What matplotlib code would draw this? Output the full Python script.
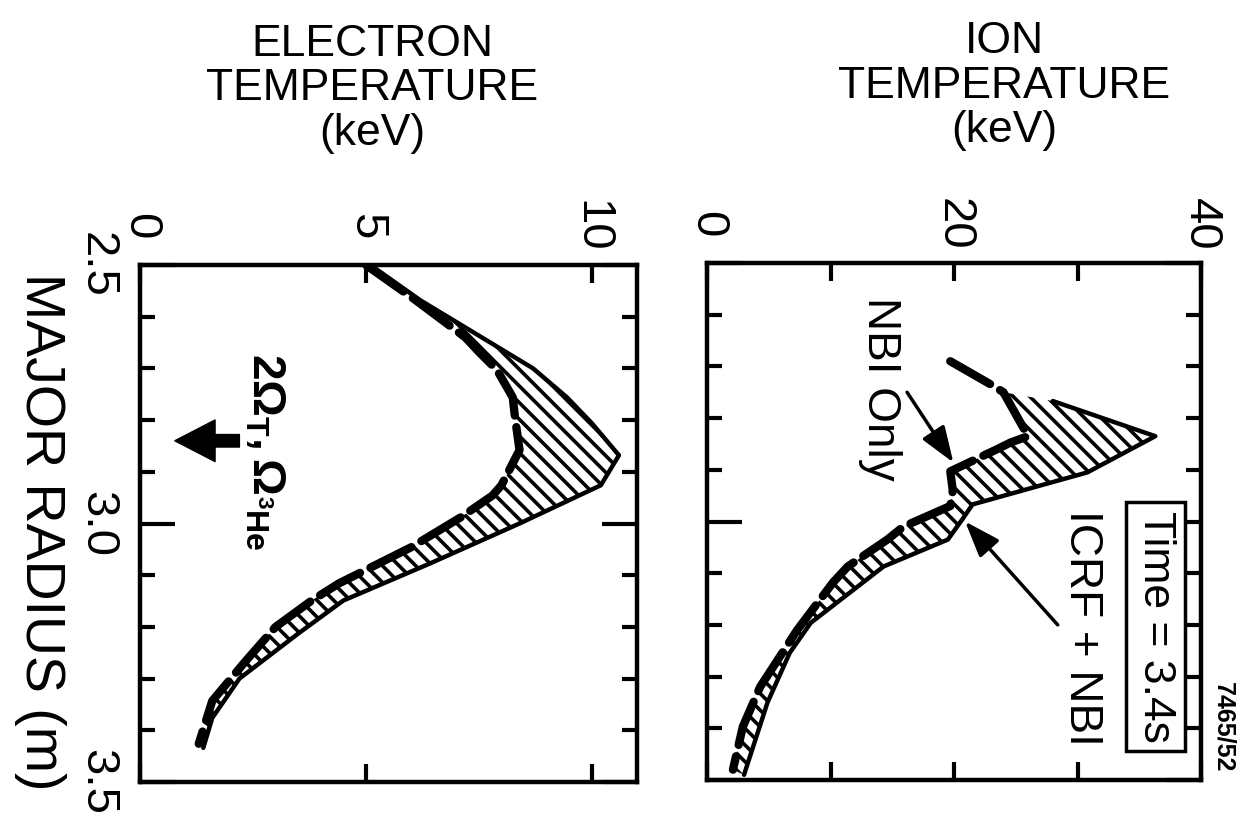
import matplotlib
matplotlib.use('Agg')
import matplotlib.pyplot as plt
from matplotlib.ticker import MultipleLocator, FixedLocator
import numpy as np

plt.rcParams['font.family'] = ['Liberation Sans', 'DejaVu Sans']
plt.rcParams['mathtext.fontset'] = 'custom'
plt.rcParams['mathtext.rm'] = 'Liberation Sans:bold'
plt.rcParams['mathtext.it'] = 'Liberation Sans:bold'
plt.rcParams['mathtext.bf'] = 'Liberation Sans:bold'
plt.rcParams['hatch.linewidth'] = 2.6

# ---------------- data ----------------
# Electron temperature (keV) vs major radius (m)
e_solid_R = [2.50, 2.568, 2.70, 2.756, 2.806, 2.868, 2.926, 3.00, 3.078, 3.149, 3.213, 3.30, 3.376, 3.434]
e_solid_T = [5.1, 6.2, 8.7, 9.45, 10.0, 10.6, 10.2, 8.4, 6.4, 4.5, 3.5, 2.2, 1.6, 1.4]
e_dash_R = [2.50, 2.568, 2.64, 2.668, 2.703, 2.756, 2.795, 2.858, 2.926, 2.946, 2.988, 3.046, 3.116, 3.149, 3.20, 3.25, 3.27, 3.343, 3.426]
e_dash_T = [5.0, 6.1, 7.2, 7.5, 7.9, 8.25, 8.3, 8.4, 8.0, 7.8, 7.1, 6.0, 4.4, 3.8, 3.0, 2.5, 2.3, 1.6, 1.3]

# Ion temperature (keV) vs major radius (m)
i_solid_R = [2.767, 2.835, 2.905, 2.967, 2.995, 3.035, 3.087, 3.196, 3.254, 3.35, 3.475, 3.49]
i_solid_T = [28.0, 36.3, 30.8, 21.5, 20.7, 19.5, 14.3, 8.4, 6.7, 4.9, 3.2, 3.0]
i_dash_R = [2.69, 2.738, 2.75, 2.835, 2.847, 2.86, 2.903, 2.94, 2.97, 3.01, 3.035, 3.087, 3.118, 3.21, 3.32, 3.397, 3.48]
i_dash_T = [19.7, 23.2, 24.0, 26.0, 24.6, 23.5, 19.7, 19.9, 19.7, 15.9, 14.6, 11.4, 10.2, 7.3, 4.3, 2.9, 2.1]

radius_ticks = [2.5, 3.0, 3.5]
radius_labels = ['2.5', '3.0', '3.5']
e_ticks = [0, 5, 10]
e_labels = ['0', '5', '10']
i_ticks = [0, 20, 40]
i_labels = ['0', '20', '40']

W, H = 1242, 821
fig = plt.figure(figsize=(W / 100, H / 100), dpi=100)


def fx(px):
    return px / W


def fy(py):
    return 1 - py / H


ax_e = fig.add_axes([fx(140), fy(782), 497 / W, 517 / H])
ax_i = fig.add_axes([fx(707), fy(780), 494 / W, 517 / H])


def band(ax, sT, sR, dT, dR, rmin):
    sT, sR, dT, dR = map(np.asarray, (sT, sR, dT, dR))
    m = dR >= rmin
    xs = np.concatenate([sT, dT[m][::-1]])
    ys = np.concatenate([sR, dR[m][::-1]])
    ax.fill(xs, ys, facecolor='none', edgecolor='black', hatch='\\\\', lw=0, zorder=1)
    ax.plot(sT, sR, color='black', lw=3.2, solid_capstyle='round', solid_joinstyle='round', zorder=3)
    ax.plot(dT, dR, color='black', lw=6, linestyle=(0, (5.5, 1.4)), dash_capstyle='round',
            dash_joinstyle='round', zorder=4)


band(ax_e, e_solid_T, e_solid_R, e_dash_T, e_dash_R, 2.5)
band(ax_i, i_solid_T, i_solid_R, i_dash_T, i_dash_R, 2.75)

ax_e.set_xlim(0, 11)
ax_i.set_xlim(0, 40)

for ax in (ax_e, ax_i):
    ax.set_ylim(3.5, 2.5)
    for s in ax.spines.values():
        s.set_linewidth(3.2)
    ax.yaxis.set_major_locator(FixedLocator(radius_ticks))
    ax.yaxis.set_minor_locator(MultipleLocator(0.1))
    ax.xaxis.set_ticks_position('both')
    ax.yaxis.set_ticks_position('both')
    ax.tick_params(axis='both', which='both', direction='in', width=3, color='black')
    ax.tick_params(axis='y', which='major', length=25)
    ax.tick_params(axis='y', which='minor', length=11)
    ax.tick_params(axis='x', which='both', length=13)
    ax.tick_params(axis='x', labeltop=True, labelbottom=False, labelrotation=-90,
                   labelsize=34, pad=28)

ax_e.set_xticks(e_ticks, e_labels)
ax_i.set_xticks(i_ticks, i_labels)
ax_i.xaxis.set_minor_locator(FixedLocator([10, 30]))
ax_e.set_yticks(radius_ticks, radius_labels)
ax_e.tick_params(axis='y', labelleft=True, labelright=False, labelrotation=-90, labelsize=34, pad=31)
ax_i.tick_params(axis='y', labelleft=False, labelright=False)

for ax in (ax_e, ax_i):
    for t in ax.xaxis.get_major_ticks():
        t.label2.set_va('center')
        t.label2.set_ha('center')
for t in ax_e.yaxis.get_major_ticks():
    t.label1.set_ha('center')
    t.label1.set_va('center')

# Axis titles
fig.text(fx(40), fy(532), 'MAJOR RADIUS (m)', rotation=-90, ha='center', va='center', fontsize=40)
fig.text(fx(372), fy(89), 'ELECTRON\nTEMPERATURE\n(keV)', ha='center', va='center',
         fontsize=32, linespacing=1.12)
fig.text(fx(1004), fy(86), 'ION\nTEMPERATURE\n(keV)', ha='center', va='center',
         fontsize=32, linespacing=1.12)

# Electron panel annotations
ax_e.text(2.75, 2.862, r'$2\Omega_{T},\Omega_{^3He}$', rotation=-90, ha='center', va='center',
          fontsize=33, zorder=5)
ax_e.annotate('', xy=(0.77, 2.84), xytext=(2.2, 2.84),
              arrowprops=dict(arrowstyle='simple,head_length=2.9,head_width=3.0,tail_width=0.9',
                              fc='black', ec='black', shrinkA=0, shrinkB=0, mutation_scale=10))

# Ion panel annotations
ax_i.text(14.0, 2.744, 'NBI Only', rotation=-90, ha='center', va='center', fontsize=33)
ax_i.annotate('', xy=(19.95, 2.886), xytext=(16.2, 2.75),
              arrowprops=dict(arrowstyle='-|>,head_length=1.1,head_width=0.4', color='black',
                              lw=2.5, shrinkA=0, shrinkB=0, mutation_scale=20))
ax_i.text(30.4, 3.205, 'ICRF + NBI', rotation=-90, ha='center', va='center', fontsize=33)
ax_i.annotate('', xy=(20.9, 3.0), xytext=(28.4, 3.20),
              arrowprops=dict(arrowstyle='-|>,head_length=1.1,head_width=0.4', color='black',
                              lw=2.5, shrinkA=0, shrinkB=0, mutation_scale=20))
ax_i.text(36.3, 3.203, 'Time = 3.4s', rotation=-90, ha='center', va='center', fontsize=32,
          bbox=dict(boxstyle='square,pad=0.2', fc='white', ec='black', lw=2.5))

fig.text(fx(1223), fy(727), '7465/52', rotation=-90, ha='center', va='center', fontsize=18,
         fontweight='bold')

fig.savefig('out.png', dpi=100)
